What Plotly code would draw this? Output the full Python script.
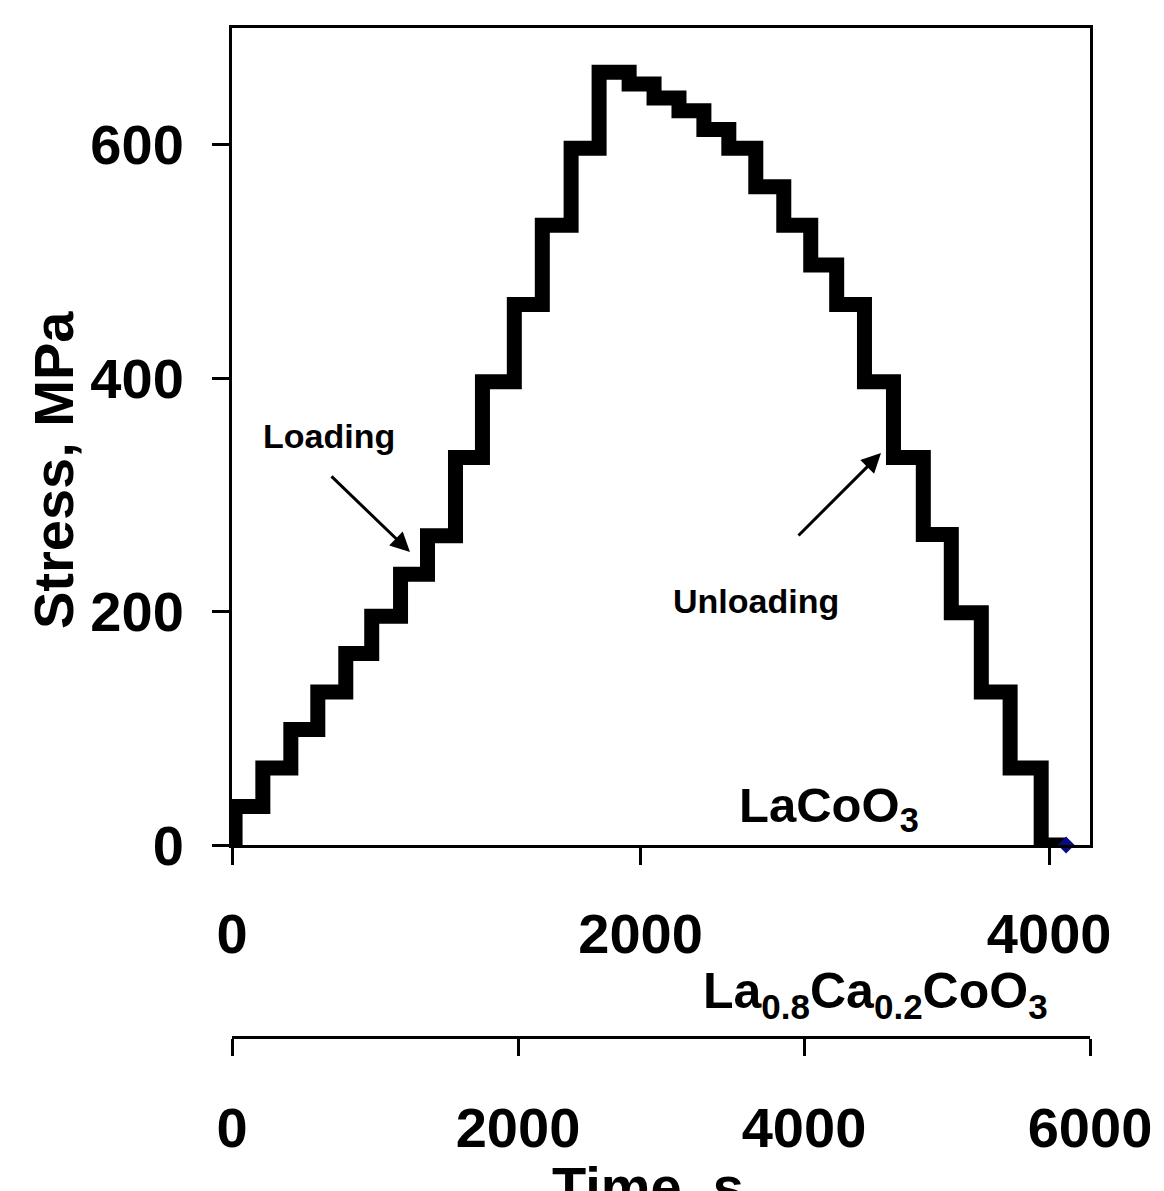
import plotly.graph_objects as go

# Staircase load history (LaCoO3 time axis): time of each step change, new stress level
time_s = [0, 15, 151, 288, 420, 557, 684, 825, 957, 1094, 1226, 1382, 1519, 1660, 1797,
          1944, 2066, 2188, 2310, 2432, 2564, 2701, 2833, 2960, 3096, 3238, 3384, 3521,
          3668, 3809, 3961, 4083]
stress_mpa = [0, 33, 66, 99, 131, 164, 196, 232, 265, 332, 397, 463, 531, 597, 662,
              652, 640, 629, 613, 597, 564, 531, 497, 463, 397, 332, 266, 199,
              131, 66, 0, 0]

x1_ticks = [0, 2000, 4000]
x2_ticks = [0, 2000, 4000, 6000]
y_ticks = [0, 200, 400, 600]

W, H = 1164, 1191
L, R, T, B = 232, 74, 28, 0
pw = W - L - R
ph = H - T - B


def px(xp):
    return (xp - L) / pw


def py(yp):
    return (H - B - yp) / ph


BOLD = "Liberation Sans, Arial, sans-serif"

fig = go.Figure()
fig.add_trace(go.Scatter(
    x=time_s, y=stress_mpa, mode="lines", line=dict(color="black", width=15, shape="hv"),
    showlegend=False, hoverinfo="skip"))
fig.add_trace(go.Scatter(
    x=[time_s[-1]], y=[stress_mpa[-1]], mode="markers", cliponaxis=False,
    marker=dict(symbol="diamond", size=13, color="#0a0a80"), showlegend=False))
fig.add_trace(go.Scatter(
    x=[x2_ticks[0]], y=[None], xaxis="x2", mode="markers", showlegend=False, hoverinfo="skip"))

fig.update_layout(
    width=W, height=H, template="none",
    margin=dict(l=L, r=R, t=T, b=B),
    plot_bgcolor="white", paper_bgcolor="white",
    showlegend=False,
    xaxis=dict(range=[0, 4200], tickvals=x1_ticks, ticks="outside", ticklen=17, tickwidth=3,
               tickcolor="black", showline=True, linewidth=3, linecolor="black", mirror=True,
               showgrid=False, zeroline=False, automargin=False,
               tickfont=dict(family=BOLD, size=56, color="black", weight="bold"),
               ticklabelstandoff=21),
    xaxis2=dict(range=[0, 6000], tickvals=x2_ticks, overlaying="x", anchor="free",
                position=py(1037), side="bottom", ticks="outside", ticklen=17, tickwidth=3,
                tickcolor="black", showline=True, linewidth=3, linecolor="black",
                showgrid=False, zeroline=False, automargin=False,
                tickfont=dict(family=BOLD, size=56, color="black", weight="bold"),
                ticklabelstandoff=24),
    yaxis=dict(range=[0, 700], domain=[py(845), 1], tickvals=y_ticks, ticks="outside",
               ticklen=17, tickwidth=3, tickcolor="black", showline=True, linewidth=3,
               linecolor="black", mirror=True, showgrid=False, zeroline=False,
               automargin=False,
               tickfont=dict(family=BOLD, size=56, color="black", weight="bold"),
               ticklabelstandoff=17),
)

C = dict(xref="paper", yref="paper", xanchor="center", yanchor="middle", showarrow=False)
ann = []
ann.append(dict(text="Stress, MPa", x=px(53), y=py(470), textangle=-90,
                font=dict(family=BOLD, size=56, color="black", weight="bold"), **C))
ann.append(dict(C, text="Time, s", x=px(648), y=py(1153), yanchor="top",
                font=dict(family=BOLD, size=56, color="black", weight="bold")))
ann.append(dict(text="Loading", x=px(329), y=py(436),
                font=dict(family=BOLD, size=34, color="black", weight="bold"), **C))
ann.append(dict(text="Unloading", x=px(756), y=py(601),
                font=dict(family=BOLD, size=34, color="black", weight="bold"), **C))
ann.append(dict(text="LaCoO<sub>3</sub>", x=px(829), y=py(808),
                font=dict(family=BOLD, size=49, color="black", weight="bold"), **C))
ann.append(dict(text="La<sub>0.8</sub>Ca<sub>0.2</sub>CoO<sub>3</sub>", x=px(875), y=py(994),
                font=dict(family=BOLD, size=50, color="black", weight="bold"), **C))
ann.append(dict(text="", x=px(410), y=py(552), xref="paper", yref="paper", showarrow=True,
                ax=330 - 410, ay=475 - 552, arrowhead=2, arrowsize=1.3, arrowwidth=3,
                arrowcolor="black"))
ann.append(dict(text="", x=px(881), y=py(453), xref="paper", yref="paper", showarrow=True,
                ax=797 - 881, ay=537 - 453, arrowhead=2, arrowsize=1.3, arrowwidth=3,
                arrowcolor="black"))
fig.update_layout(annotations=ann)

fig.write_html("out.html", config={"displayModeBar": False},
               post_script="document.body.style.margin='0';")
